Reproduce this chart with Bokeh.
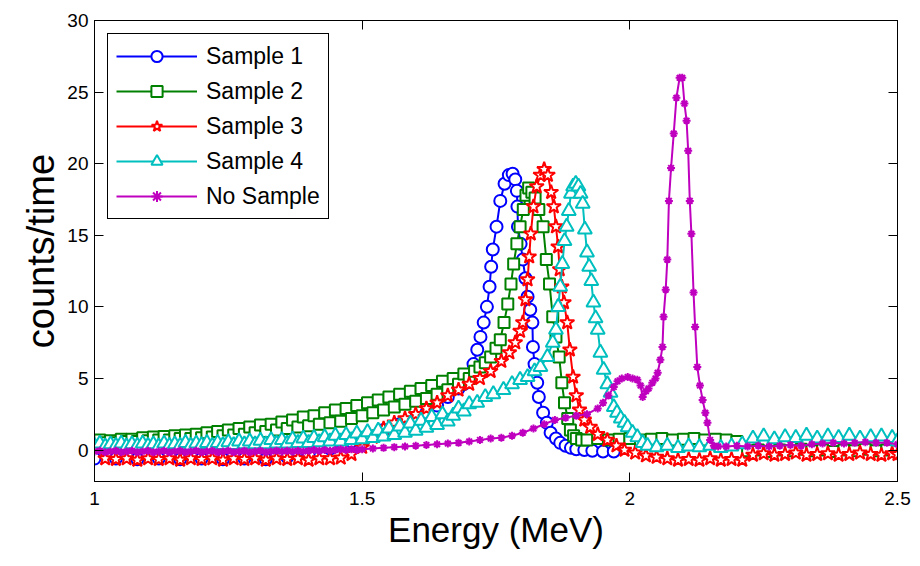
from bokeh.plotting import figure
from bokeh.models import Range1d, FixedTicker, LinearAxis, Legend, LegendItem
from bokeh.embed import file_html
from bokeh.resources import INLINE

# ---------------- data ----------------
x_ticks = [1, 1.5, 2, 2.5]
x_tick_labels = ["1", "1.5", "2", "2.5"]
y_ticks = [0, 5, 10, 15, 20, 25, 30]
y_tick_labels = ["0", "5", "10", "15", "20", "25", "30"]

series_names = ["Sample 1", "Sample 2", "Sample 3", "Sample 4", "No Sample"]

s1_x = [1.00, 1.04, 1.08, 1.12, 1.16, 1.20, 1.24, 1.28, 1.32, 1.36,
        1.40, 1.44, 1.48, 1.51, 1.54, 1.57, 1.60, 1.62, 1.64, 1.66,
        1.68, 1.69, 1.70, 1.708, 1.715, 1.721, 1.727, 1.733, 1.738, 1.741,
        1.744, 1.751, 1.758, 1.766, 1.774, 1.781, 1.786, 1.789, 1.790, 1.791,
        1.796, 1.800, 1.805, 1.809, 1.814, 1.818, 1.819, 1.822, 1.827, 1.830,
        1.838, 1.845, 1.852, 1.862, 1.870, 1.880, 1.890, 1.900, 1.915, 1.930,
        1.950, 1.970]
s1_y = [-0.6, -0.6, -0.65, -0.6, -0.65, -0.6, -0.65, -0.6, -0.65, -0.5,
        -0.3, 0.1, 0.6, 1.0, 1.4, 1.8, 2.2, 2.6, 3.1, 3.7,
        4.3, 4.6, 5.2, 6.0, 7.0, 7.9, 8.9, 10.0, 11.4, 12.8,
        14.0, 15.6, 17.4, 18.6, 19.2, 19.3, 18.9, 18.1, 17.0, 15.6,
        14.4, 13.3, 12.0, 10.7, 9.8, 8.9, 7.2, 6.0, 4.7, 3.7,
        2.6, 1.9, 1.2, 0.8, 0.5, 0.3, 0.15, 0.05, 0.0, -0.05,
        -0.1, -0.1]

s2_x = [1.00, 1.01, 1.02, 1.03, 1.04, 1.05, 1.06, 1.07, 1.08, 1.09,
        1.10, 1.11, 1.12, 1.13, 1.14, 1.15, 1.16, 1.17, 1.18, 1.19,
        1.20, 1.21, 1.22, 1.23, 1.24, 1.25, 1.26, 1.27, 1.28, 1.29,
        1.30, 1.31, 1.32, 1.33, 1.34, 1.35, 1.36, 1.37, 1.38, 1.39,
        1.40, 1.41, 1.42, 1.43, 1.44, 1.45, 1.46, 1.47, 1.48, 1.49,
        1.50, 1.51, 1.52, 1.53, 1.54, 1.55, 1.56, 1.57, 1.58, 1.59,
        1.60, 1.61, 1.62, 1.63, 1.64, 1.65, 1.66, 1.67, 1.68, 1.69,
        1.70,
        1.71, 1.72, 1.73, 1.74, 1.75, 1.758, 1.765, 1.772, 1.778, 1.783,
        1.789, 1.795, 1.801, 1.806, 1.811, 1.817, 1.823, 1.830, 1.838, 1.844,
        1.850, 1.856, 1.862, 1.868, 1.873, 1.878, 1.884, 1.889, 1.895, 1.90,
        1.91,
        1.92, 1.94, 1.96, 1.98, 2.00, 2.02, 2.04, 2.06, 2.08, 2.10,
        2.12, 2.14, 2.16, 2.18, 2.20,
        2.22, 2.24, 2.26, 2.28, 2.30, 2.32, 2.34, 2.36, 2.38, 2.40,
        2.42, 2.44, 2.46, 2.48, 2.50]
s2_y = [0.45, 0.7, 0.5, 0.65, 0.5, 0.75, 0.6, 0.75, 0.6, 0.85,
        0.65, 0.9, 0.7, 0.95, 0.7, 1.0, 0.8, 1.05, 0.8, 1.1,
        0.85, 1.2, 0.9, 1.3, 1.0, 1.4, 1.05, 1.5, 1.1, 1.6,
        1.2, 1.75, 1.3, 1.8, 1.4, 1.95, 1.5, 2.1, 1.6, 2.3,
        1.7, 2.4, 1.8, 2.6, 1.9, 2.8, 2.0, 2.9, 2.2, 3.1,
        2.4, 3.3, 2.6, 3.5, 2.8, 3.7, 3.0, 3.9, 3.2, 4.1,
        3.4, 4.3, 3.6, 4.5, 3.9, 4.8, 4.2, 5.0, 4.6, 5.3,
        5.0,
        5.5, 5.8, 6.1, 6.5, 7.1, 7.7, 8.9, 10.2, 11.6, 13.0,
        14.4, 15.6, 16.8, 17.8, 18.3, 18.0, 17.6, 16.8, 15.6, 13.3,
        11.6, 9.3, 7.9, 6.5, 4.7, 3.3, 2.2, 1.4, 1.0, 0.8,
        0.7,
        0.7, 0.8, 0.7, 0.75, 0.8, 0.7, 0.75, 0.8, 0.7, 0.75,
        0.8, 0.7, 0.75, 0.7, 0.6,
        -0.05, 0.0, -0.1, 0.0, -0.05, 0.05, -0.05, 0.0, -0.1, 0.0,
        -0.05, 0.05, -0.05, 0.0, -0.05]

s3_x = [1.00, 1.02, 1.04, 1.06, 1.08, 1.10, 1.12, 1.14, 1.16, 1.18,
        1.20, 1.22, 1.24, 1.26, 1.28, 1.30, 1.32, 1.34, 1.36, 1.38,
        1.40, 1.42, 1.44,
        1.46, 1.48, 1.50, 1.52, 1.54, 1.56, 1.58, 1.60, 1.62, 1.64,
        1.66, 1.68, 1.70, 1.72, 1.74, 1.76, 1.775, 1.786, 1.795, 1.800,
        1.805, 1.809, 1.812, 1.815, 1.820, 1.826, 1.833, 1.840, 1.847, 1.853,
        1.858, 1.862, 1.866, 1.869, 1.873, 1.877, 1.883, 1.888, 1.894, 1.900,
        1.906, 1.915, 1.926, 1.940, 1.958, 1.975, 1.990, 2.010, 2.030, 2.050,
        2.07, 2.09, 2.11, 2.13, 2.15, 2.17, 2.19, 2.21,
        2.23, 2.25, 2.27, 2.29, 2.31, 2.33, 2.35, 2.37, 2.39, 2.41,
        2.43, 2.45, 2.47, 2.49, 2.50]
s3_y = [0.2, -0.6, -0.65, -0.6, -0.7, -0.6, -0.65, -0.6, -0.7, -0.6,
        -0.65, -0.6, -0.7, -0.6, -0.65, -0.6, -0.7, -0.6, -0.65, -0.6,
        -0.7, -0.6, -0.6,
        -0.55, -0.3, 0.2, 0.9, 1.5, 1.9, 2.2, 2.5, 2.9, 3.3,
        3.8, 4.2, 4.6, 5.0, 5.5, 6.2, 6.8, 7.5, 8.3, 8.9,
        10.5, 11.9, 13.5, 15.1, 17.0, 18.4, 19.2, 19.6, 19.2, 18.0,
        17.0, 15.6, 14.2, 12.6, 11.4, 10.3, 8.9, 7.0, 5.1, 3.8,
        2.8, 2.1, 1.6, 1.1, 0.7, 0.3, 0.0, -0.2, -0.4, -0.5,
        -0.6, -0.7, -0.65, -0.7, -0.6, -0.7, -0.65, -0.7,
        -0.35, -0.25, -0.35, -0.3, -0.2, -0.35, -0.3, -0.25, -0.35, -0.3,
        -0.2, -0.3, -0.35, -0.25, -0.3]

s4_x = [1.00, 1.01, 1.02, 1.03, 1.04, 1.05, 1.06, 1.07, 1.08, 1.09,
        1.10, 1.11, 1.12, 1.13, 1.14, 1.15, 1.16, 1.17, 1.18, 1.19,
        1.20, 1.21, 1.22, 1.23, 1.24, 1.25, 1.26, 1.27, 1.28, 1.29,
        1.30, 1.31, 1.32, 1.33, 1.34, 1.35, 1.36, 1.37, 1.38, 1.39,
        1.40, 1.41, 1.42, 1.43, 1.44, 1.45, 1.46, 1.47, 1.48, 1.49,
        1.50, 1.51, 1.52, 1.53, 1.54, 1.55, 1.56, 1.57, 1.58, 1.59,
        1.60, 1.61, 1.62, 1.63, 1.64, 1.65, 1.66,
        1.67, 1.68, 1.69, 1.70, 1.715, 1.73, 1.745, 1.764, 1.78, 1.795,
        1.809, 1.822, 1.833, 1.846, 1.856, 1.862, 1.866, 1.870, 1.874, 1.878,
        1.882, 1.886, 1.890, 1.894, 1.899, 1.904, 1.908, 1.912, 1.916, 1.920,
        1.924, 1.928, 1.932, 1.936, 1.940, 1.945, 1.951, 1.958, 1.964, 1.970,
        1.976, 1.983, 1.990, 1.996, 2.005, 2.014, 2.024, 2.033,
        2.05, 2.07, 2.09, 2.11, 2.13, 2.15, 2.17, 2.19, 2.21,
        2.23, 2.25, 2.27, 2.29, 2.31, 2.33, 2.35, 2.37, 2.39, 2.41,
        2.43, 2.45, 2.47, 2.49, 2.50]
s4_y = [0.3, 0.45, 0.25, 0.4, 0.3, 0.45, 0.25, 0.4, 0.3, 0.45,
        0.3, 0.4, 0.25, 0.45, 0.3, 0.4, 0.3, 0.5, 0.3, 0.45,
        0.35, 0.5, 0.3, 0.5, 0.35, 0.55, 0.35, 0.6, 0.4, 0.6,
        0.4, 0.65, 0.4, 0.7, 0.45, 0.7, 0.45, 0.75, 0.5, 0.8,
        0.5, 0.85, 0.55, 0.9, 0.6, 1.0, 0.6, 1.05, 0.7, 1.15,
        0.75, 1.25, 0.85, 1.35, 0.95, 1.5, 1.05, 1.65, 1.2, 1.85,
        1.35, 2.05, 1.55, 2.3, 1.75, 2.5, 2.0,
        2.4, 2.9, 2.7, 3.2, 3.3, 3.7, 3.9, 4.2, 4.6, 4.9,
        5.1, 5.5, 5.8, 6.5, 7.5, 8.4, 10.0, 11.4, 13.0, 14.6,
        15.6, 16.7, 17.9, 18.4, 18.6, 18.4, 17.9, 17.2, 15.4, 13.8,
        12.8, 11.8, 10.3, 9.2, 8.4, 6.8, 5.6, 4.6, 4.0, 3.0,
        2.6, 2.2, 1.9, 1.6, 1.2, 0.9, 0.5, 0.3,
        0.2, 0.3, 0.15, 0.25, 0.2, 0.3, 0.15, 0.25, 0.4,
        0.8, 0.95, 0.75, 0.9, 0.85, 1.0, 0.8, 0.95, 0.85, 1.0,
        0.8, 0.9, 0.95, 0.85, 0.6]

s5_x = [1.00, 1.01, 1.02, 1.03, 1.04, 1.05, 1.06, 1.07, 1.08, 1.09,
        1.10, 1.11, 1.12, 1.13, 1.14, 1.15, 1.16, 1.17, 1.18, 1.19,
        1.20, 1.21, 1.22, 1.23, 1.24, 1.25, 1.26, 1.27, 1.28, 1.29,
        1.30, 1.31, 1.32, 1.33, 1.34, 1.35, 1.36, 1.37, 1.38, 1.39,
        1.40, 1.41, 1.42, 1.43, 1.44, 1.45, 1.46, 1.47, 1.48, 1.49,
        1.50,
        1.52, 1.54, 1.56, 1.58, 1.60, 1.62, 1.64, 1.66, 1.68, 1.70,
        1.72, 1.74, 1.76, 1.78, 1.80, 1.82, 1.84, 1.86, 1.88, 1.90,
        1.92, 1.94,
        1.95, 1.96, 1.97, 1.977, 1.985, 1.996, 2.005, 2.014, 2.020, 2.024,
        2.030, 2.035, 2.042, 2.048, 2.052, 2.057, 2.061, 2.063, 2.067, 2.070,
        2.073, 2.077, 2.082, 2.087, 2.093, 2.098, 2.102, 2.106, 2.109, 2.112,
        2.115, 2.119, 2.122, 2.126, 2.131, 2.136, 2.141, 2.145, 2.150, 2.157,
        2.165,
        2.18, 2.20, 2.22, 2.24, 2.26, 2.28, 2.30, 2.32, 2.34, 2.36,
        2.38, 2.40, 2.42, 2.44, 2.46, 2.48, 2.50]
s5_y = [-0.1, -0.05, -0.15, -0.1, -0.05, -0.15, -0.1, -0.05, -0.15, -0.1,
        -0.05, -0.15, -0.1, -0.05, -0.15, -0.1, -0.05, -0.15, -0.1, -0.05,
        -0.15, -0.1, -0.05, -0.15, -0.1, -0.05, -0.15, -0.1, -0.05, -0.15,
        -0.1, -0.05, -0.15, -0.1, -0.05, -0.1, -0.05, -0.1, -0.05, -0.1,
        -0.05, 0.0, -0.05, 0.0, -0.05, 0.0, 0.05, 0.0, 0.05, 0.0,
        0.05,
        0.1, 0.15, 0.2, 0.25, 0.3, 0.35, 0.4, 0.45, 0.5, 0.6,
        0.7, 0.8, 0.85, 1.0, 1.2, 1.5, 1.8, 2.1, 2.25, 2.4,
        2.5, 2.9,
        3.3, 3.8, 4.4, 4.8, 5.0, 5.1, 5.0, 4.9, 4.5, 3.7,
        4.1, 4.3, 4.7, 5.0, 5.4, 6.3, 7.2, 9.3, 11.2, 13.3,
        17.4, 19.7, 22.1, 24.6, 26.0, 26.0, 24.2, 23.0, 20.9, 17.4,
        15.1, 11.0, 8.6, 5.8, 4.5, 3.5, 2.6, 1.9, 0.7, 0.3,
        0.25,
        0.25, 0.3, 0.25, 0.3, 0.25, 0.3, 0.35, 0.3, 0.4, 0.45,
        0.5, 0.45, 0.5, 0.55, 0.5, 0.5, 0.4]

# ---------------- styles ----------------
FONT = "Liberation Sans"
colors = ["#0000ff", "#008000", "#ff0000", "#00bfbf", "#bf00bf"]
markers = ["circle", "square", "star", "triangle", "asterisk"]
msizes = [12, 11, 15, 14, 8]
xs = [s1_x, s2_x, s3_x, s4_x, s5_x]
ys = [s1_y, s2_y, s3_y, s4_y, s5_y]

p = figure(width=912, height=558, output_backend="svg", toolbar_location=None,
           x_range=Range1d(1, 2.5), y_range=Range1d(-2.2, 30),
           min_border_left=94, min_border_right=15, min_border_top=20,
           min_border_bottom=77)
p.background_fill_color = "white"
p.border_fill_color = "white"
p.outline_line_color = "black"
p.outline_line_width = 1
p.xgrid.visible = False
p.ygrid.visible = False

items = []
for name, c, m, ms, x, y in zip(series_names, colors, markers, msizes, xs, ys):
    ln = p.line(x, y, line_color=c, line_width=2)
    sc = p.scatter(x, y, marker=m, size=ms, line_color=c, line_width=2,
                   fill_color="white" if m != "asterisk" else c)
    items.append(LegendItem(label=name, renderers=[ln, sc]))

legend = Legend(items=items, location="top_left")
legend.border_line_color = "black"
legend.border_line_width = 1
legend.border_line_alpha = 1
legend.background_fill_color = "white"
legend.background_fill_alpha = 1
legend.label_text_font = FONT
legend.label_text_font_size = "23px"
legend.label_text_color = "black"
legend.glyph_width = 81
legend.glyph_height = 28
legend.label_height = 28
legend.spacing = 7
legend.padding = 8
legend.margin = 13
legend.label_standoff = 9
p.add_layout(legend)

def style_axis(ax, ticks, labels):
    ax.ticker = FixedTicker(ticks=ticks)
    ax.major_label_overrides = {t: l for t, l in zip(ticks, labels)}
    ax.major_tick_in = 9
    ax.major_tick_out = 0
    ax.minor_tick_line_color = None
    ax.axis_line_color = "black"
    ax.major_tick_line_color = "black"
    ax.major_label_text_font = FONT
    ax.major_label_text_font_size = "19px"
    ax.major_label_text_color = "black"
    ax.axis_label_text_font = FONT
    ax.axis_label_text_font_style = "normal"
    ax.axis_label_text_color = "black"

style_axis(p.xaxis[0], x_ticks, x_tick_labels)
style_axis(p.yaxis[0], y_ticks, y_tick_labels)
p.xaxis[0].axis_label = "Energy (MeV)"
p.xaxis[0].axis_label_text_font_size = "35px"
p.xaxis[0].major_label_standoff = 10
p.xaxis[0].axis_label_standoff = 2
p.yaxis[0].axis_label = "counts/time"
p.yaxis[0].axis_label_text_font_size = "38px"
p.yaxis[0].major_label_standoff = 6
p.yaxis[0].axis_label_standoff = 2

top = LinearAxis()
right = LinearAxis()
for ax, t in ((top, x_ticks), (right, y_ticks)):
    ax.ticker = FixedTicker(ticks=t)
    ax.major_tick_in = 9
    ax.major_tick_out = 0
    ax.minor_tick_line_color = None
    ax.major_label_text_font_size = "1px"
    ax.major_label_text_color = None
    ax.major_label_standoff = 0
    ax.axis_line_color = "black"
    ax.major_tick_line_color = "black"
p.add_layout(top, "above")
p.add_layout(right, "right")

open("out.html", "w").write(file_html(p, INLINE))
